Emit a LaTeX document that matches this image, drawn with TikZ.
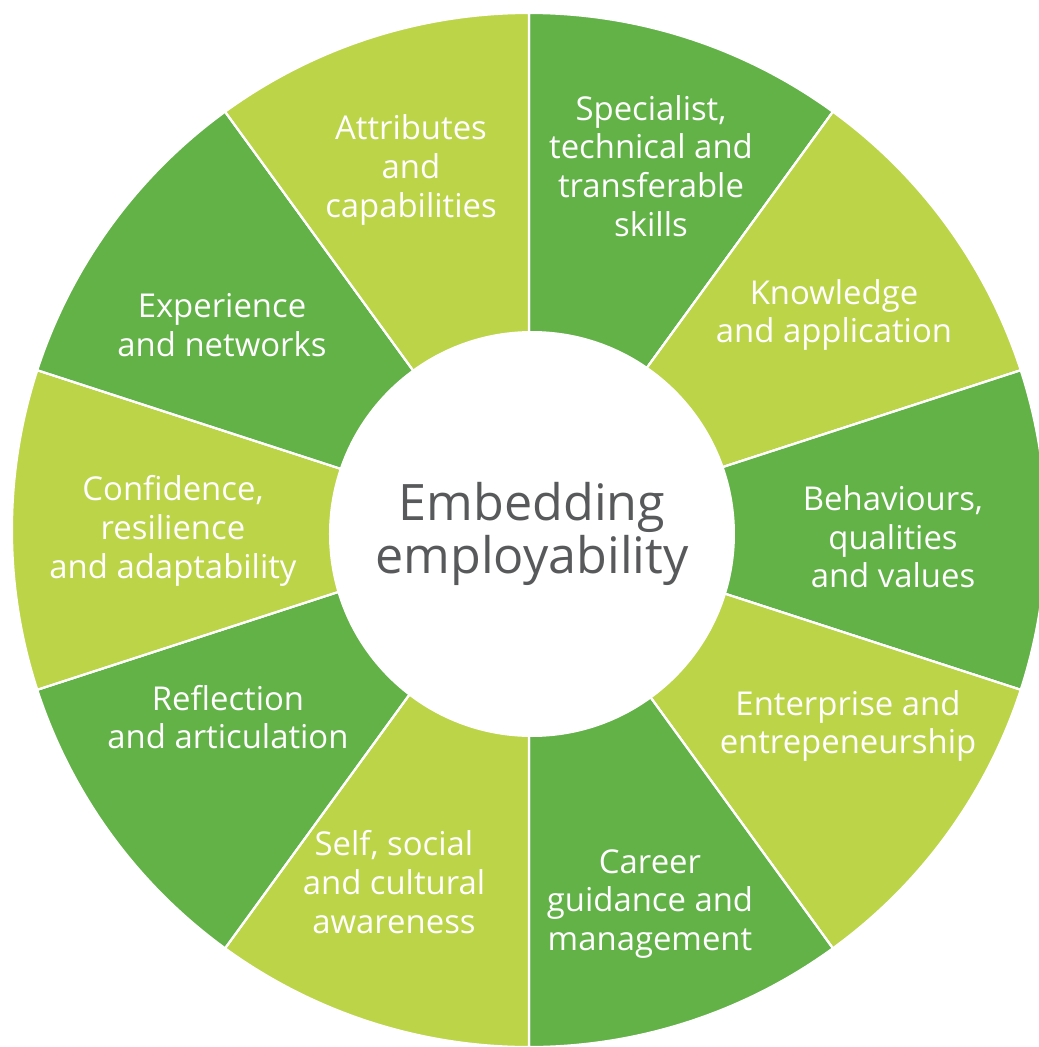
\documentclass[tikz,border=0pt]{standalone}
\usepackage{fontspec}
\setmainfont{Open Sans}
\usepackage{tikz}
\definecolor{darkleaf}{RGB}{98,178,72}
\definecolor{lightleaf}{RGB}{188,212,72}
\definecolor{hubtext}{RGB}{88,89,91}
\tikzset{
  seg/.style={draw=white,line width=0.6pt},
  segtext/.style={text=white,align=center,font=\fontsize{9.35}{11}\selectfont},
  hub/.style={circle,fill=white,minimum size=4.06cm,inner sep=0pt,text=hubtext,align=center,font=\fontsize{14.3}{15.3}\selectfont}
}
\begin{document}
\begin{tikzpicture}
\useasboundingbox[fill=white] (-5.29,-5.17) rectangle (5.09,5.30);
\fill[seg,fill=darkleaf] (0,0) -- (90:5.17) arc (90:54:5.17) -- cycle;
\fill[seg,fill=lightleaf] (0,0) -- (54:5.17) arc (54:18:5.17) -- cycle;
\fill[seg,fill=darkleaf] (0,0) -- (18:5.17) arc (18:-18:5.17) -- cycle;
\fill[seg,fill=lightleaf] (0,0) -- (-18:5.17) arc (-18:-54:5.17) -- cycle;
\fill[seg,fill=darkleaf] (0,0) -- (-54:5.17) arc (-54:-90:5.17) -- cycle;
\fill[seg,fill=lightleaf] (0,0) -- (-90:5.17) arc (-90:-126:5.17) -- cycle;
\fill[seg,fill=darkleaf] (0,0) -- (-126:5.17) arc (-126:-162:5.17) -- cycle;
\fill[seg,fill=lightleaf] (0,0) -- (-162:5.17) arc (-162:-198:5.17) -- cycle;
\fill[seg,fill=darkleaf] (0,0) -- (162:5.17) arc (162:126:5.17) -- cycle;
\fill[seg,fill=lightleaf] (0,0) -- (126:5.17) arc (126:90:5.17) -- cycle;
\draw[seg] (0,0) -- (90:5.17);
\draw[seg] (0,0) -- (54:5.17);
\draw[seg] (0,0) -- (18:5.17);
\draw[seg] (0,0) -- (-18:5.17);
\draw[seg] (0,0) -- (-54:5.17);
\draw[seg] (0,0) -- (-90:5.17);
\draw[seg] (0,0) -- (-126:5.17);
\draw[seg] (0,0) -- (-162:5.17);
\draw[seg] (0,0) -- (162:5.17);
\draw[seg] (0,0) -- (126:5.17);
\node [hub] (hub) at (0.03,-0.04) {Embedding\\employability};
\node [segtext] (skills) at (1.22,3.64) {Specialist,\\technical and\\transferable\\skills};
\node [segtext] (knowledge) at (3.05,2.15) {Knowledge\\and application};
\node [segtext] (behaviours) at (3.64,-0.07) {Behaviours,\\qualities\\and values};
\node [segtext] (enterprise) at (3.19,-1.96) {Enterprise and\\entrepeneurship};
\node [segtext] (career) at (1.21,-3.74) {Career\\guidance and\\management};
\node [segtext] (awareness) at (-1.35,-3.52) {Self, social\\and cultural\\awareness};
\node [segtext] (reflection) at (-3.01,-1.87) {Reflection\\and articulation};
\node [segtext] (confidence) at (-3.56,-0.01) {Confidence,\\resilience\\and adaptability};
\node [segtext] (experience) at (-3.07,2.05) {Experience\\and networks};
\node [segtext] (attributes) at (-1.18,3.60) {Attributes\\and\\capabilities};
\end{tikzpicture}
\end{document}
